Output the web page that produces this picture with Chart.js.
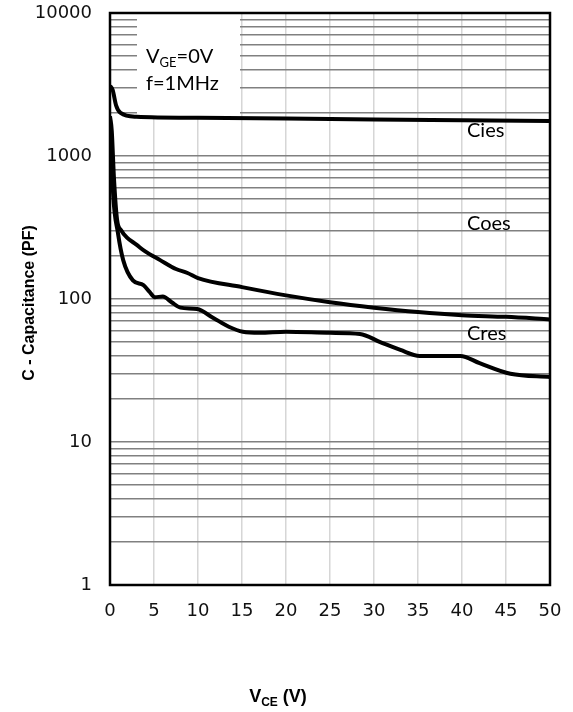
<!DOCTYPE html>
<html>
<head>
<meta charset="utf-8">
<script src="https://cdn.jsdelivr.net/npm/chart.js@4"></script>
<style>
  html, body { margin: 0; padding: 0; background: #fff; }
  canvas { display: block; }
</style>
</head>
<body>
<canvas id="grafico" width="573" height="712"></canvas>
<script>
// ===== Datos =====
const vceTicks = [0, 5, 10, 15, 20, 25, 30, 35, 40, 45, 50];
const capLabels = [1, 10, 100, 1000, 10000];

const ciesV = [0, 0.3, 0.7, 1.2, 3, 10, 20, 30, 40, 50];
const ciesC = [3100, 2900, 2250, 2000, 1880, 1850, 1830, 1800, 1780, 1760];

const coesV = [0, 0.2, 0.45, 0.8, 1.3, 1.9, 3, 4, 5.7, 7.5, 8.8, 10, 15, 20, 25, 30, 35, 40, 45, 50];
const coesC = [1900, 1500, 700, 360, 300, 270, 240, 215, 187, 162, 152, 140, 121, 106, 95, 87, 81, 77, 75, 72];

const cresV = [0, 0.15, 0.35, 0.9, 1.5, 2.6, 3.8, 4.5, 5.1, 6, 7, 8, 9.9, 11.7, 13.5, 15.1, 17, 20, 25, 28.4, 30.7, 33, 35.2, 38, 39.8, 42, 45.5, 50];
const cresC = [1800, 1200, 550, 290, 187, 135, 125, 112, 103, 104, 95, 87, 85, 74, 64, 59, 58, 59, 58, 57, 50, 44, 40, 40, 40, 35.6, 30, 28.5];

const etiquetasSerie = ["Cies", "Coes", "Cres"];

function puntos(xs, ys) {
  return xs.map((x, i) => ({ x, y: ys[i] }));
}

// ticks de la rejilla logarítmica (1..9 por década)
const logTicks = [];
for (let d = 0; d < 4; d++) {
  for (let m = 1; m < 10; m++) logTicks.push(m * Math.pow(10, d));
}
logTicks.push(10000);

// ===== Plugin de decoración =====
const decoracion = {
  id: "decoracion",
  beforeDatasetsDraw(chart) {
    const { ctx } = chart;
    // cuadro de condiciones
    ctx.save();
    ctx.fillStyle = "#fff";
    ctx.fillRect(137, 14, 103, 103);
    ctx.fillStyle = "#000";
    ctx.font = "20px Lato, 'Open Sans', sans-serif";
    ctx.textBaseline = "alphabetic";
    ctx.fillText("V", 146, 63);
    let w = ctx.measureText("V").width;
    ctx.font = "13px Lato, 'Open Sans', sans-serif";
    ctx.fillText("GE", 146 + w, 67);
    const w2 = ctx.measureText("GE").width;
    ctx.font = "20px Lato, 'Open Sans', sans-serif";
    ctx.fillText("=0V", 146 + w + w2, 63);
    ctx.fillText("f=1MHz", 146, 90);
    ctx.restore();
  },
  afterDraw(chart) {
    const { ctx, chartArea: a } = chart;
    ctx.save();
    // borde
    ctx.strokeStyle = "#000";
    ctx.lineWidth = 2.5;
    ctx.strokeRect(a.left, a.top, a.right - a.left, a.bottom - a.top);

    // nombres de curvas
    ctx.fillStyle = "#000";
    ctx.font = "20px Lato, 'Open Sans', sans-serif";
    ctx.fillText(etiquetasSerie[0], 467, 137);
    ctx.fillText(etiquetasSerie[1], 467, 230);
    ctx.fillText(etiquetasSerie[2], 467, 340);

    // título eje Y
    ctx.save();
    ctx.translate(30, 303);
    ctx.rotate(-Math.PI / 2);
    ctx.font = "bold 16px 'Liberation Sans', Arial, sans-serif";
    ctx.textAlign = "center";
    ctx.textBaseline = "middle";
    ctx.fillText("C - Capacitance (PF)", 0, 0);
    ctx.restore();

    // título eje X con subíndice
    ctx.font = "bold 18px 'Liberation Sans', Arial, sans-serif";
    const tV = "V", tSub = "CE", tRest = " (V)";
    const wV = ctx.measureText(tV).width;
    const wR = ctx.measureText(tRest).width;
    ctx.font = "bold 12px 'Liberation Sans', Arial, sans-serif";
    const wS = ctx.measureText(tSub).width;
    let x0 = 278 - (wV + wS + wR) / 2;
    ctx.font = "bold 18px 'Liberation Sans', Arial, sans-serif";
    ctx.fillText(tV, x0, 702);
    ctx.font = "bold 12px 'Liberation Sans', Arial, sans-serif";
    ctx.fillText(tSub, x0 + wV, 706);
    ctx.font = "bold 18px 'Liberation Sans', Arial, sans-serif";
    ctx.fillText(tRest, x0 + wV + wS, 702);
    ctx.restore();
  }
};

const estiloLinea = {
  borderColor: "#000",
  borderWidth: 4,
  pointRadius: 0,
  fill: false,
  cubicInterpolationMode: "monotone"
};

new Chart(document.getElementById("grafico"), {
  type: "line",
  data: {
    datasets: [
      { label: etiquetasSerie[0], data: puntos(ciesV, ciesC), ...estiloLinea },
      { label: etiquetasSerie[1], data: puntos(coesV, coesC), ...estiloLinea },
      { label: etiquetasSerie[2], data: puntos(cresV, cresC), ...estiloLinea }
    ]
  },
  options: {
    responsive: false,
    animation: false,
    events: [],
    layout: { padding: { left: 0, right: 23, top: 13, bottom: 0 } },
    plugins: { legend: { display: false }, tooltip: { enabled: false } },
    scales: {
      x: {
        type: "linear",
        min: 0,
        max: 50,
        afterFit: s => { s.height = 127; s.paddingLeft = 0; s.paddingRight = 0; },
        afterBuildTicks: s => { s.ticks = vceTicks.map(v => ({ value: v })); },
        grid: { color: "#d6d6d6", lineWidth: 1.5, drawTicks: false },
        border: { display: false },
        ticks: {
          padding: 16,
          color: "#111",
          font: { family: "'DejaVu Sans', Verdana, sans-serif", size: 18 },
          autoSkip: false,
          maxRotation: 0
        }
      },
      y: {
        type: "logarithmic",
        min: 1,
        max: 10000,
        afterFit: s => { s.width = 110; s.paddingTop = 0; s.paddingBottom = 0; },
        afterBuildTicks: s => { s.ticks = logTicks.map(v => ({ value: v })); },
        grid: { color: "#808080", lineWidth: 1.6, drawTicks: false },
        border: { display: false },
        ticks: {
          padding: 18,
          color: "#111",
          autoSkip: false,
          font: { family: "'DejaVu Sans', Verdana, sans-serif", size: 18 },
          callback: v => capLabels.includes(v) ? String(v) : ""
        }
      }
    }
  },
  plugins: [decoracion]
});
</script>
</body>
</html>
